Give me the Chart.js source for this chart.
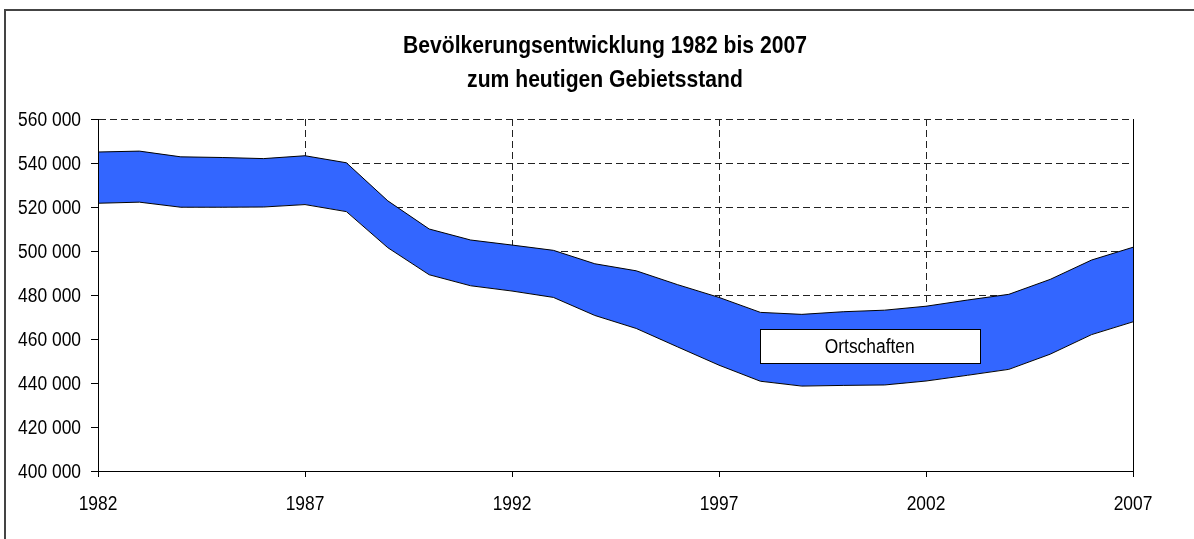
<!DOCTYPE html>
<html>
<head>
<meta charset="utf-8">
<script src="https://cdn.jsdelivr.net/npm/chart.js@4/dist/chart.umd.min.js"></script>
<style>
  html, body { margin: 0; padding: 0; background: #fff; }
  #wrap { width: 1194px; height: 539px; position: relative; }
</style>
</head>
<body>
<div id="wrap"><canvas id="c" width="1194" height="539"></canvas></div>
<script>
// ---- data ----
const years = [1982,1983,1984,1985,1986,1987,1988,1989,1990,1991,1992,1993,1994,1995,1996,1997,1998,1999,2000,2001,2002,2003,2004,2005,2006,2007];
const lowerValues = [521700,522200,519900,519900,520000,521100,517900,501500,489200,484200,481800,478900,470700,464800,456400,448100,440800,438600,438900,439100,440900,443500,446200,453100,462000,467800];
const upperValues = [545000,545400,542800,542500,542000,543300,540100,522800,510000,505000,502700,500300,494200,491000,484700,478900,472100,471200,472400,473100,474900,477700,480300,487100,495900,501700];
const titleLines = ['Bevölkerungsentwicklung 1982 bis 2007', 'zum heutigen Gebietsstand'];
const seriesLabel = 'Ortschaften';
const yTicks = [400000,420000,440000,460000,480000,500000,520000,540000,560000];
const xTickYears = [1982,1987,1992,1997,2002,2007];
const labelAnchor = { x: 2000.64, y: 456600 };

const FONT = '"Liberation Sans", Arial, sans-serif';
const NARROW = 0.87;      // horizontal condensing of the text (narrow typeface look)
const TITLE_NARROW = 0.88;

function fmt(v) { return String(v).replace(/\B(?=(\d{3})+(?!\d))/g, ' '); }

function narrowText(ctx, text, x, y, align, sx) {
  ctx.save();
  ctx.translate(x, y);
  ctx.scale(sx, 1);
  ctx.textAlign = align;
  ctx.textBaseline = 'alphabetic';
  ctx.fillText(text, 0, 0);
  ctx.restore();
}

const lowerPts = years.map((y, i) => ({ x: y, y: lowerValues[i] }));
const upperPts = years.map((y, i) => ({ x: y, y: upperValues[i] }));

const framePlugin = {
  id: 'frame',
  beforeDraw(chart) {
    const ctx = chart.ctx;
    ctx.save();
    ctx.fillStyle = '#fff';
    ctx.fillRect(0, 0, chart.width, chart.height);
    ctx.strokeStyle = '#444';
    ctx.lineWidth = 2;
    ctx.strokeRect(5, 10, chart.width + 20, chart.height + 20);
    ctx.restore();
  },
  afterDatasetsDraw(chart) {
    const ctx = chart.ctx;
    const a = chart.chartArea;
    ctx.save();
    ctx.strokeStyle = '#000';
    ctx.lineWidth = 1;
    ctx.beginPath();
    ctx.moveTo(Math.round(a.right) + 0.5, a.top);
    ctx.lineTo(Math.round(a.right) + 0.5, a.bottom);
    ctx.stroke();
    // series label box
    const xs = chart.scales.x, ys = chart.scales.y;
    const cx = xs.getPixelForValue(labelAnchor.x);
    const cy = ys.getPixelForValue(labelAnchor.y);
    const w = 220, h = 34;
    const bx = Math.round(cx - w / 2) + 0.5, by = Math.round(cy - h / 2) + 0.5;
    ctx.fillStyle = '#fff';
    ctx.fillRect(bx, by, w, h);
    ctx.strokeStyle = '#000';
    ctx.strokeRect(bx, by, w, h);
    ctx.fillStyle = '#000';
    ctx.font = '20px ' + FONT;
    narrowText(ctx, seriesLabel, cx, cy + 7, 'center', NARROW);
    ctx.restore();
  },
  afterDraw(chart) {
    const ctx = chart.ctx;
    const a = chart.chartArea;
    const xs = chart.scales.x, ys = chart.scales.y;
    ctx.save();
    ctx.fillStyle = '#000';
    // title
    ctx.font = 'bold 24px ' + FONT;
    const tcx = 605;
    narrowText(ctx, titleLines[0], tcx, 53, 'center', TITLE_NARROW);
    narrowText(ctx, titleLines[1], tcx, 87, 'center', TITLE_NARROW);
    // tick labels
    ctx.font = '20px ' + FONT;
    yTicks.forEach(v => {
      narrowText(ctx, fmt(v), a.left - 17, ys.getPixelForValue(v) + 7, 'right', NARROW);
    });
    xTickYears.forEach(v => {
      narrowText(ctx, String(v), xs.getPixelForValue(v), a.bottom + 39, 'center', NARROW);
    });
    ctx.restore();
  }
};

new Chart(document.getElementById('c'), {
  type: 'line',
  data: {
    datasets: [
      { label: seriesLabel + ' (unten)', data: lowerPts, fill: 'start', backgroundColor: '#ffffff', borderColor: '#000', borderWidth: 1, pointRadius: 0, tension: 0 },
      { label: seriesLabel, data: upperPts, fill: '-1', backgroundColor: '#3366FF', borderColor: '#000', borderWidth: 1, pointRadius: 0, tension: 0 }
    ]
  },
  options: {
    responsive: false,
    animation: false,
    layout: { padding: { left: 16, right: 61, top: 119, bottom: 0 } },
    plugins: {
      legend: { display: false },
      tooltip: { enabled: false },
      title: { display: false }
    },
    scales: {
      x: {
        type: 'linear',
        min: 1982, max: 2007,
        afterBuildTicks(scale) { scale.ticks = xTickYears.map(v => ({ value: v })); },
        afterFit(scale) { scale.height = 68; },
        ticks: { color: 'rgba(0,0,0,0)', font: { family: FONT, size: 20 }, padding: 10, maxRotation: 0, callback: v => String(v) },
        grid: { color: '#222', lineWidth: 1, tickLength: 6, tickColor: '#000', borderDash: [7, 4], tickBorderDash: [] },
        border: { display: true, color: '#000', width: 1, z: 1, dash: [7, 4] }
      },
      y: {
        type: 'linear',
        min: 400000, max: 560000,
        afterBuildTicks(scale) { scale.ticks = yTicks.map(v => ({ value: v })); },
        afterFit(scale) { scale.width = 82; },
        ticks: { color: 'rgba(0,0,0,0)', font: { family: FONT, size: 20 }, padding: 10, callback: v => fmt(v) },
        grid: { color: '#222', lineWidth: 1, tickLength: 7, tickColor: '#000', borderDash: [7, 4], tickBorderDash: [] },
        border: { display: true, color: '#000', width: 1, z: 1, dash: [7, 4] }
      }
    },
    elements: { line: { borderJoinStyle: 'miter' } }
  },
  plugins: [framePlugin]
});
</script>
</body>
</html>
